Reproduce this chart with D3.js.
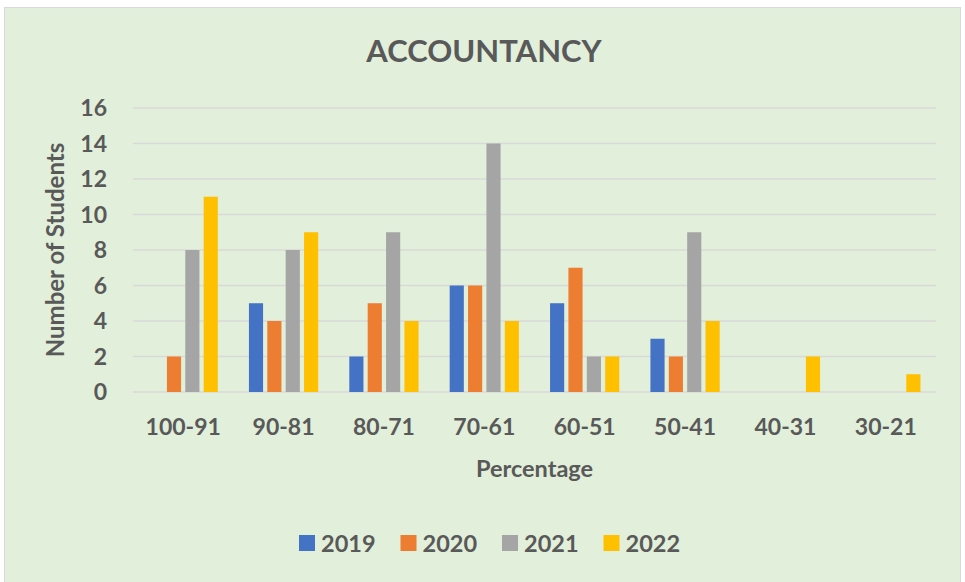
<!DOCTYPE html>
<html>
<head>
<meta charset="utf-8">
<script src="https://cdn.jsdelivr.net/npm/d3@7"></script>
<style>
  body { margin: 0; background: #fff; }
  text { font-family: Lato, Carlito, Calibri, sans-serif; font-weight: bold; fill: #595959; }
</style>
</head>
<body>
<svg id="chart" width="965" height="582"></svg>
<script>
// data
const categories = ['100-91', '90-81', '80-71', '70-61', '60-51', '50-41', '40-31', '30-21']
const years = ['2019', '2020', '2021', '2022']
const s2019 = [0, 5, 2, 6, 5, 3, 0, 0]
const s2020 = [2, 4, 5, 6, 7, 2, 0, 0]
const s2021 = [8, 8, 9, 14, 2, 9, 0, 0]
const s2022 = [11, 9, 4, 4, 2, 4, 2, 1]
const yTicks = [0, 2, 4, 6, 8, 10, 12, 14, 16]
const colors = ['#4472C4', '#ED7D31', '#A5A5A5', '#FFC000']

const series = [s2019, s2020, s2021, s2022]
const svg = d3.select('#chart')
const padding = { left: 133, right: 29, top: 108, bottom: 190 }
const width = 965 - padding.left - padding.right
const height = 582 - padding.top - padding.bottom

// background + border
svg.append('rect')
  .attr('x', 4.5).attr('y', 7.5)
  .attr('width', 956).attr('height', 580)
  .attr('fill', '#E2EFDA')
  .attr('stroke', '#D9D9D9')

const x0 = d3.scaleBand()
  .domain(categories)
  .range([0, width])
  .paddingInner(0.31)
  .paddingOuter(0.155)

const x1 = d3.scaleBand()
  .domain(years)
  .range([0, x0.bandwidth()])
  .paddingInner(0.23)

const y = d3.scaleLinear()
  .domain([0, 16])
  .range([height, 0])

const g = svg.append('g')
  .attr('transform', 'translate(' + padding.left + ',' + padding.top + ')')

// gridlines
g.selectAll('.grid')
  .data(yTicks)
  .enter()
  .append('line')
  .attr('x1', 0)
  .attr('x2', width)
  .attr('y1', d => y(d))
  .attr('y2', d => y(d))
  .attr('stroke', '#D9D9D9')
  .attr('stroke-width', 1.3)

// y tick labels
g.selectAll('.ytick')
  .data(yTicks)
  .enter()
  .append('text')
  .attr('x', -26)
  .attr('y', d => y(d))
  .attr('dy', '0.36em')
  .attr('text-anchor', 'end')
  .style('font-size', '23px')
  .text(d => d)

// bars
series.forEach(function(data, j) {
  g.selectAll('.bar' + j)
    .data(data)
    .enter()
    .append('rect')
    .attr('x', (d, i) => x0(categories[i]) + x1(years[j]))
    .attr('y', d => y(d))
    .attr('width', x1.bandwidth())
    .attr('height', d => height - y(d))
    .attr('fill', colors[j])
})

// category labels
g.selectAll('.xtick')
  .data(categories)
  .enter()
  .append('text')
  .attr('x', d => x0(d) + x0.bandwidth() / 2)
  .attr('y', height + 43)
  .attr('text-anchor', 'middle')
  .style('font-size', '23px')
  .text(d => d)

// titles
svg.append('text')
  .attr('x', 484)
  .attr('y', 62)
  .attr('text-anchor', 'middle')
  .style('font-size', '31px')
  .text('ACCOUNTANCY')

svg.append('text')
  .attr('x', padding.left + width / 2)
  .attr('y', 477)
  .attr('text-anchor', 'middle')
  .style('font-size', '23.5px')
  .text('Percentage')

svg.append('text')
  .attr('transform', 'translate(64,250) rotate(-90)')
  .attr('text-anchor', 'middle')
  .style('font-size', '24px')
  .text('Number of Students')

// legend
const legend = svg.selectAll('.legend')
  .data(years)
  .enter()
  .append('g')
  .attr('transform', (d, i) => 'translate(' + (299 + i * 101.5) + ',535)')

legend.append('rect')
  .attr('width', 16)
  .attr('height', 16)
  .attr('fill', (d, i) => colors[i])

legend.append('text')
  .attr('x', 22)
  .attr('y', 16.5)
  .style('font-size', '23.5px')
  .text(d => d)
</script>
</body>
</html>
